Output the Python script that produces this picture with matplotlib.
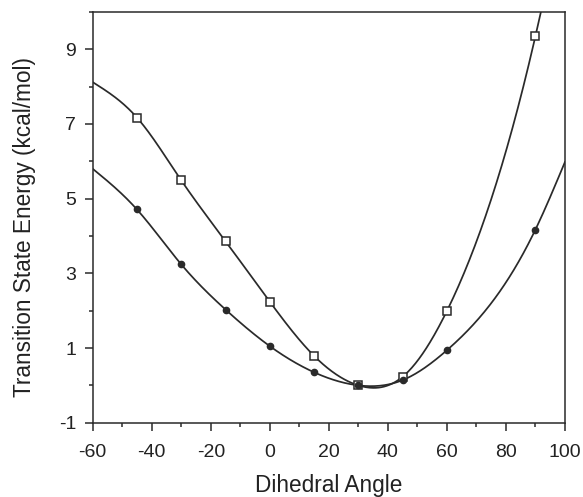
import numpy as np
import matplotlib
matplotlib.use("Agg")
import matplotlib.pyplot as plt
from matplotlib.ticker import MultipleLocator

plt.rcParams['font.family'] = ['Liberation Sans', 'DejaVu Sans']
plt.rcParams['axes.unicode_minus'] = False

# measured points
angles = [-45, -30, -15, 0, 15, 30, 45, 60, 90]
open_sq = [7.17, 5.49, 3.86, 2.24, 0.79, 0.0, 0.23, 1.99, 9.35]
filled = [4.71, 3.24, 2.03, 1.05, 0.35, 0.0, 0.14, 0.94, 4.17]

# where the drawn fit curves meet the frame
sq_curve_ends_x = [-60, 92]
sq_curve_ends_y = [8.12, 10.05]
fi_curve_ends_x = [-60, 100]
fi_curve_ends_y = [5.80, 5.98]

xticks = [-60, -40, -20, 0, 20, 40, 60, 80, 100]
yticks = [-1, 1, 3, 5, 7, 9]


def natural_spline(x, y, xs):
    x = np.asarray(x, float)
    y = np.asarray(y, float)
    n = len(x)
    h = np.diff(x)
    A = np.zeros((n, n))
    r = np.zeros(n)
    A[0, 0] = 1.0
    A[-1, -1] = 1.0
    for i in range(1, n - 1):
        A[i, i - 1] = h[i - 1]
        A[i, i] = 2 * (h[i - 1] + h[i])
        A[i, i + 1] = h[i]
        r[i] = 6 * ((y[i + 1] - y[i]) / h[i] - (y[i] - y[i - 1]) / h[i - 1])
    M = np.linalg.solve(A, r)
    i = np.clip(np.searchsorted(x, xs) - 1, 0, n - 2)
    hi = h[i]
    a = x[i + 1] - xs
    b = xs - x[i]
    return (M[i] * a ** 3 / (6 * hi) + M[i + 1] * b ** 3 / (6 * hi)
            + (y[i] / hi - M[i] * hi / 6) * a + (y[i + 1] / hi - M[i + 1] * hi / 6) * b)


def curve_through(ends_x, ends_y, px, py):
    pts = sorted(zip(list(px) + list(ends_x), list(py) + list(ends_y)))
    cx = [p[0] for p in pts]
    cy = [p[1] for p in pts]
    xs = np.linspace(cx[0], cx[-1], 500)
    return xs, natural_spline(cx, cy, xs)


fig = plt.figure(figsize=(5.83, 4.97), dpi=100)
ax = fig.add_axes([0.159, 0.1495, 0.81, 0.8265])

lc = '#2a2a2a'
xs1, ys1 = curve_through(sq_curve_ends_x, sq_curve_ends_y, angles, open_sq)
xs2, ys2 = curve_through(fi_curve_ends_x, fi_curve_ends_y, angles, filled)
ax.plot(xs1, ys1, color=lc, lw=1.25)
ax.plot(xs2, ys2, color=lc, lw=1.25)
ax.plot(angles, open_sq, linestyle='none', marker='s', ms=5.5, mfc='white', mec=lc, mew=1.1)
ax.plot(angles, filled, linestyle='none', marker='o', ms=4.5, mfc=lc, mec=lc)

ax.set_xlim(-60, 100)
ax.set_ylim(-1, 10)
ax.set_xticks(xticks)
ax.set_yticks(yticks)
ax.xaxis.set_minor_locator(MultipleLocator(10))
ax.yaxis.set_minor_locator(MultipleLocator(1))
ax.tick_params(which='major', direction='out', length=6, width=1.1, labelsize=14, color=lc, labelcolor='#222222', pad=9)
ax.tick_params(axis='y', which='major', pad=6)
ax.tick_params(which='minor', direction='out', length=3, width=1.1, color=lc)
for s in ax.spines.values():
    s.set_color(lc)
    s.set_linewidth(1.1)

ax.set_xlabel('Dihedral Angle', fontsize=16.3, color='#222222', labelpad=10)
ax.set_ylabel('Transition State Energy (kcal/mol)', fontsize=16.3, color='#222222')
ax.yaxis.set_label_coords(-0.12, 0.477)

fig.savefig('out.png', dpi=100)
